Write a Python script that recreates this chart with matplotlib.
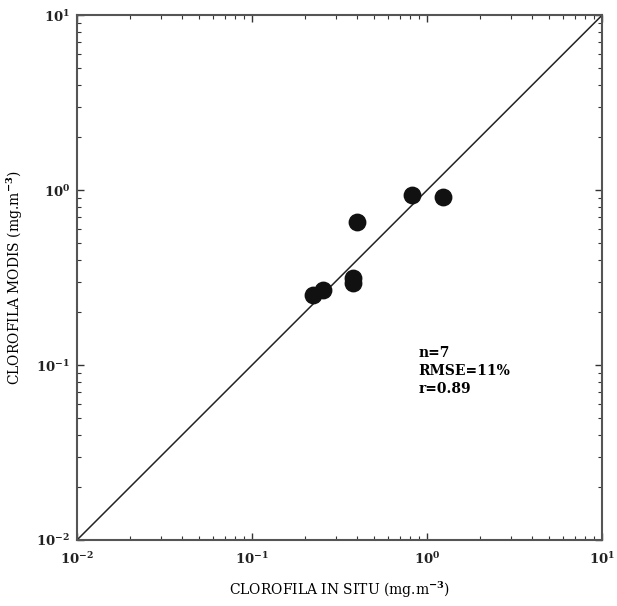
import numpy as np
import matplotlib.pyplot as plt

# in situ vs MODIS chlorophyll (mg.m-3)
in_situ = [0.224, 0.255, 0.378, 0.378, 0.397, 0.818, 1.239]
modis = [0.251, 0.268, 0.316, 0.296, 0.659, 0.936, 0.915]
stats = ["n=7", "RMSE=11%", "r=0.89"]

plt.rcParams['font.family'] = 'DejaVu Serif'
plt.rcParams['font.weight'] = 'bold'
plt.rcParams['mathtext.fontset'] = 'dejavuserif'
plt.rcParams['mathtext.default'] = 'bf'

fig = plt.figure(figsize=(6.17, 6.06), dpi=100)
ax = fig.add_axes([0.1248, 0.1089, 0.851, 0.866])

# 1:1 line
line = np.array([1e-2, 1e1])
ax.plot(line, line, color='#222222', lw=1.1)

ax.scatter(in_situ, modis, s=140, color='#111111', zorder=3)

ax.set_xscale('log')
ax.set_yscale('log')
ax.set_xlim(1e-2, 1e1)
ax.set_ylim(1e-2, 1e1)

ax.tick_params(which='both', direction='in', top=True, right=True,
               labelsize=9.5, colors='#333333', labelcolor='#222222')
ax.tick_params(which='major', length=5, width=1)
ax.tick_params(which='minor', length=3, width=0.8)
ax.tick_params(axis='x', which='major', pad=8)
ax.tick_params(axis='y', which='major', pad=5)
for s in ax.spines.values():
    s.set_linewidth(1.5)
    s.set_color('#555555')

ax.set_xlabel('CLOROFILA IN SITU (mg.m$^{-3}$)', fontsize=10, labelpad=9)
ax.set_ylabel('CLOROFILA MODIS (mg.m$^{-3}$)', fontsize=10, labelpad=8)

ax.text(0.65, 0.37, "\n".join(stats), transform=ax.transAxes,
        fontsize=10, linespacing=1.35, va='top', ha='left')

fig.savefig('out.png', dpi=100)
